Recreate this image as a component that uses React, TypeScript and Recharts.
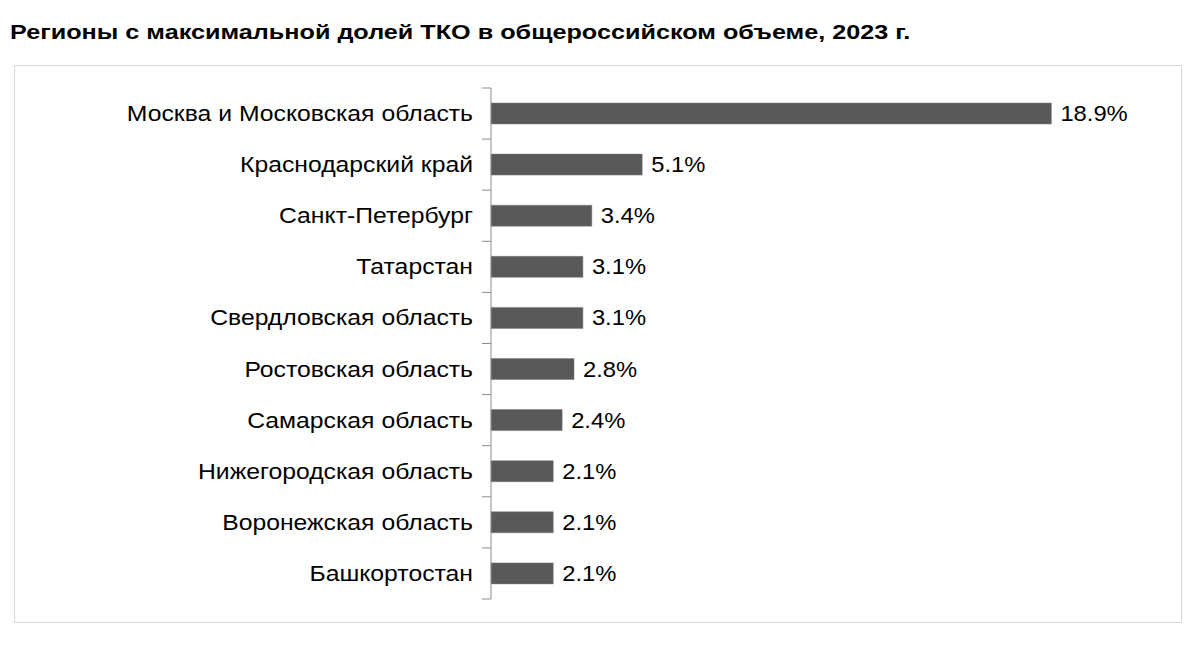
import { BarChart, Bar, XAxis, YAxis, LabelList } from "recharts";

const regions = [
  "Москва и Московская область",
  "Краснодарский край",
  "Санкт-Петербург",
  "Татарстан",
  "Свердловская область",
  "Ростовская область",
  "Самарская область",
  "Нижегородская область",
  "Воронежская область",
  "Башкортостан",
];

const shares = [18.9, 5.1, 3.4, 3.1, 3.1, 2.8, 2.4, 2.1, 2.1, 2.1];

const xDomain = [0, 20];

const data = regions.map((name, i) => ({ name, value: shares[i] }));

const CHART_W = 1166;
const CHART_H = 556;
const MARGIN = { top: 22, right: 97, bottom: 23, left: 0 };
const AXIS_W = 476;
const TICK_SIZE = 9;
const TICK_GAP = 9;
const FONT = '"Liberation Sans", Arial, sans-serif';

// Excel-style ticks: marks at the band boundaries, not at centres
function RegionTick(props: any) {
  const { x, y, payload, index } = props;
  const band = (CHART_H - MARGIN.top - MARGIN.bottom) / regions.length;
  const axisX = x + TICK_SIZE + TICK_GAP;
  return (
    <g>
      <text
        transform={`translate(${x},${y}) scale(1.125,1)`}
        dy={7.5}
        textAnchor="end"
        fill="#000"
        fontSize={22}
        fontFamily={FONT}
      >
        {payload.value}
      </text>
      <line x1={axisX - TICK_SIZE} x2={axisX} y1={y - band / 2} y2={y - band / 2} stroke="#8c8c8c" />
      {index === regions.length - 1 && (
        <line x1={axisX - TICK_SIZE} x2={axisX} y1={y + band / 2} y2={y + band / 2} stroke="#8c8c8c" />
      )}
    </g>
  );
}

function ValueLabel(props: any) {
  const { x, y, width, height, value } = props;
  return (
    <text
      transform={`translate(${x + width + 9},${y + height / 2}) scale(1.08,1)`}
      dy={7.5}
      textAnchor="start"
      fill="#000"
      fontSize={22}
      fontFamily={FONT}
    >
      {`${Number(value).toFixed(1)}%`}
    </text>
  );
}

export default function App() {
  return (
    <div
      style={{
        position: "absolute",
        left: 0,
        top: 0,
        width: 1200,
        height: 650,
        background: "#fff",
        fontFamily: FONT,
      }}
    >
      <div
        style={{
          position: "absolute",
          left: 10,
          top: 21,
          fontSize: 20,
          fontWeight: 700,
          color: "#000",
          whiteSpace: "nowrap",
          transform: "scaleX(1.26)",
          transformOrigin: "left center",
        }}
      >
        Регионы с максимальной долей ТКО в общероссийском объеме, 2023 г.
      </div>
      <div
        style={{
          position: "absolute",
          left: 14,
          top: 65,
          width: CHART_W,
          height: CHART_H,
          border: "1px solid #d9d9d9",
        }}
      >
        <BarChart width={CHART_W} height={CHART_H} data={data} layout="vertical" margin={MARGIN}>
          <XAxis type="number" domain={xDomain} hide />
          <YAxis
            type="category"
            dataKey="name"
            width={AXIS_W}
            axisLine={{ stroke: "#8c8c8c" }}
            tickLine={false}
            tickSize={TICK_SIZE}
            tickMargin={TICK_GAP}
            interval={0}
            tick={<RegionTick />}
          />
          <Bar dataKey="value" fill="#595959" stroke="#7a7a7a" strokeWidth={0.5} barSize={21} isAnimationActive={false}>
            <LabelList dataKey="value" content={<ValueLabel />} />
          </Bar>
        </BarChart>
      </div>
    </div>
  );
}
